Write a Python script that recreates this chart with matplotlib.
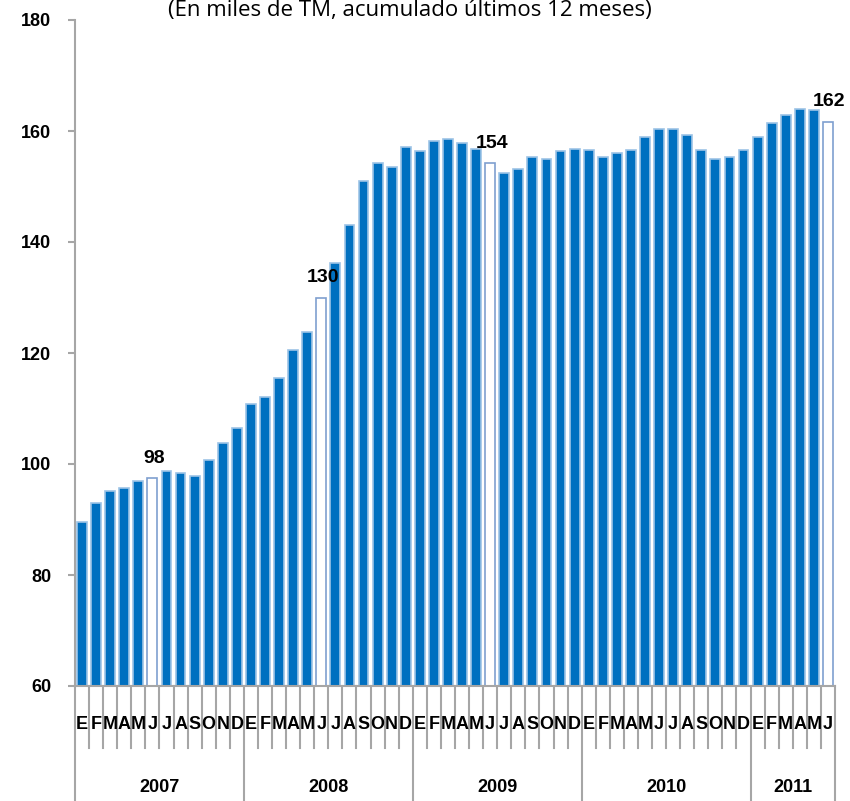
import numpy as np
import matplotlib.pyplot as plt
from matplotlib.transforms import blended_transform_factory

# Datos: acumulado ultimos 12 meses (miles de TM)
years = ['2007', '2008', '2009', '2010', '2011']
months = ['E', 'F', 'M', 'A', 'M', 'J', 'J', 'A', 'S', 'O', 'N', 'D']
months_per_year = [12, 12, 12, 12, 6]
values = [
    89.6, 92.9, 95.1, 95.7, 96.9, 97.4, 98.7, 98.3, 97.9, 100.7, 103.7, 106.4,
    110.8, 112.0, 115.5, 120.5, 123.8, 130.0, 136.3, 143.1, 151.0, 154.3, 153.6, 157.1,
    156.4, 158.2, 158.6, 157.9, 156.8, 154.2, 152.4, 153.2, 155.4, 155.0, 156.4, 156.8,
    156.5, 155.4, 156.1, 156.5, 158.9, 160.4, 160.4, 159.3, 156.5, 155.0, 155.4, 156.5,
    158.9, 161.4, 162.9, 164.0, 163.7, 161.7,
]
highlight = {5: '98', 17: '130', 29: '154', 53: '162'}

blue = '#0070C0'
grid_gray = '#A6A6A6'
font = ['Liberation Sans', 'DejaVu Sans']

fig = plt.figure(figsize=(8.5, 8.01), dpi=100)
ax = fig.add_axes([75 / 850, 115 / 801, 760 / 850, 666 / 801])

n = len(values)
x = np.arange(n)
face = ['white' if i in highlight else blue for i in range(n)]
edge = ['#7F9FCF' if i in highlight else '#9DC3E6' for i in range(n)]
ax.bar(x, np.array(values) - 60, bottom=60, width=0.7, color=face,
       edgecolor=edge, linewidth=1.2, zorder=2)

for i, txt in highlight.items():
    ax.text(i + 0.1, values[i] + 2.0, txt, ha='center', va='bottom',
            fontsize=14, fontweight='bold', family=font)

ax.set_xlim(-0.5, n - 0.5)
ax.set_ylim(60, 180)
ax.set_yticks(np.arange(60, 181, 20))
for lbl in ax.get_yticklabels():
    lbl.set_fontweight('bold')
    lbl.set_fontsize(13)
    lbl.set_family(font)
ax.tick_params(axis='y', length=5, color=grid_gray, width=1.5, pad=12)
ax.set_xticks([])

for s in ['top', 'right']:
    ax.spines[s].set_visible(False)
ax.spines['left'].set_color(grid_gray)
ax.spines['left'].set_linewidth(1.5)
ax.spines['bottom'].set_color(grid_gray)
ax.spines['bottom'].set_linewidth(1.5)

# Eje de categorias en dos niveles
trans = blended_transform_factory(ax.transData, ax.transAxes)
month_bottom = -0.093
year_bottom = -0.175
start = 0
boundaries = [-0.5]
for yi, cnt in enumerate(months_per_year):
    for m in range(cnt):
        idx = start + m
        ax.text(idx, -0.058, months[m], transform=trans, ha='center', va='center',
                fontsize=13, fontweight='bold', family=font, clip_on=False)
        if m > 0:
            ax.plot([idx - 0.5, idx - 0.5], [0, month_bottom], transform=trans,
                    color=grid_gray, lw=1.5, clip_on=False, zorder=0)
    ax.text(start + cnt / 2 - 0.5, -0.152, years[yi], transform=trans,
            ha='center', va='center', fontsize=13, fontweight='bold',
            family=font, clip_on=False)
    start += cnt
    boundaries.append(start - 0.5)
for b in boundaries:
    ax.plot([b, b], [0, year_bottom], transform=trans, color=grid_gray,
            lw=1.5, clip_on=False)

fig.text(410 / 850, 1.0, '(En miles de TM, acumulado últimos 12 meses)',
         ha='center', va='top', fontsize=16, family=['Open Sans', 'DejaVu Sans'])

fig.savefig('out.png', dpi=100)
